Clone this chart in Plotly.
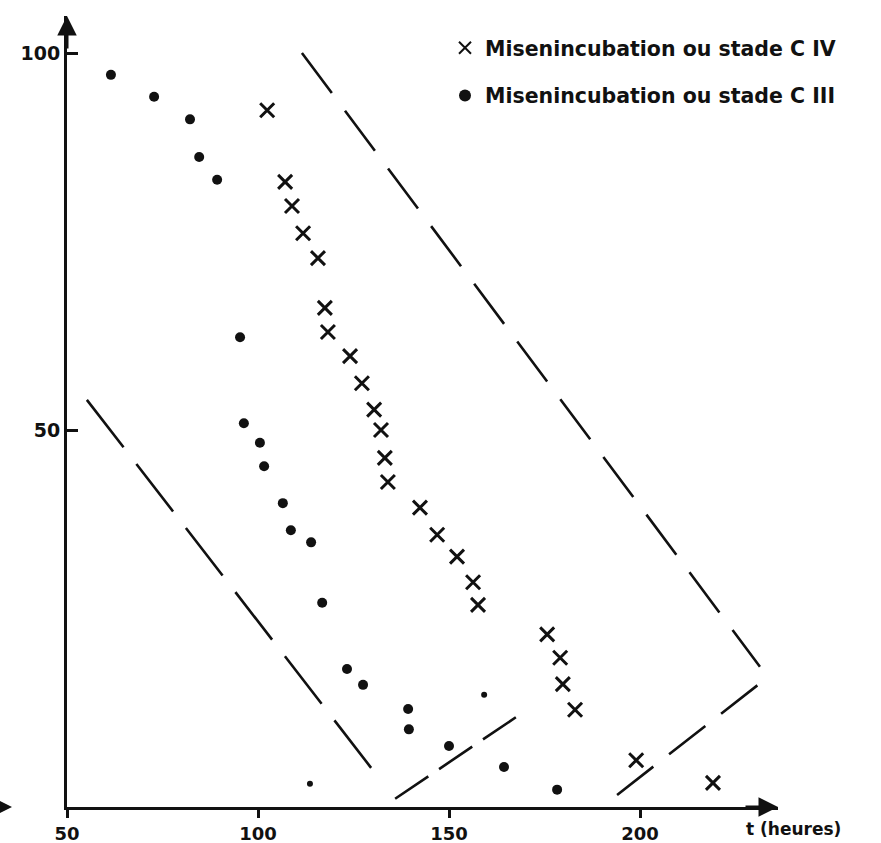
import plotly.graph_objects as go

# --- Data ---
# Mise en incubation au stade C IV (crosses)
civ_t = [102.4, 107.1, 108.9, 111.8, 115.7, 117.5, 118.3, 124.1, 127.2, 130.4,
         132.2, 133.2, 134.0, 142.4, 146.9, 152.1, 156.3, 157.6, 175.7, 179.1,
         179.8, 183.0, 199.0, 219.1]
civ_y = [92.4, 82.9, 79.7, 76.1, 72.8, 66.2, 63.0, 59.8, 56.2, 52.7,
         50.0, 46.3, 43.1, 39.7, 36.1, 33.2, 29.8, 26.8, 22.9, 19.8,
         16.3, 12.9, 6.2, 3.2]

# Mise en incubation au stade C III (dots)
ciii_t = [61.5, 72.8, 82.2, 84.6, 89.3, 95.3, 96.3, 100.5, 101.6, 106.5,
          108.6, 113.9, 116.8, 123.3, 127.5, 139.3, 139.5, 150.0, 164.4, 178.3]
ciii_y = [97.1, 94.2, 91.2, 86.2, 83.2, 62.3, 50.9, 48.3, 45.2, 40.3,
          36.7, 35.1, 27.1, 18.3, 16.2, 13.0, 10.3, 8.1, 5.3, 2.3]

# small (faint) dots
faint_t = [113.6, 159.2]
faint_y = [3.1, 14.9]

# envelope dashed lines (start/end points)
env1_t = [55.2, 132.5]
env1_y = [54.0, 3.3]
env2_t = [135.9, 167.5]
env2_y = [1.1, 11.9]
env3_t = [111.5, 231.4]
env3_y = [100.0, 18.6]
env4_t = [194.0, 231.9]
env4_y = [1.6, 16.6]

x_ticks = [50, 100, 150, 200]
y_ticks = [50, 100]

legend_civ = "Misenincubation ou stade C IV"
legend_ciii = "Misenincubation ou stade C III"
x_title = "t (heures)"

INK = "#111111"
FONT = "DejaVu Sans"

# --- Layout geometry ---
W, H = 881, 843
L, R, T, B = 67, W - 778, 16, H - 807
pw, ph = W - L - R, H - T - B
x_range = [50, 50 + pw / 3.82]
y_range = [0, ph / 7.54]

fig = go.Figure()

for tx, ty, dash in [(env1_t, env1_y, "60px,21px"), (env2_t, env2_y, "40px,13px"),
                     (env3_t, env3_y, "50px,22px"), (env4_t, env4_y, "46px,20px")]:
    fig.add_trace(go.Scatter(x=tx, y=ty, mode="lines", showlegend=False,
                             line=dict(color=INK, width=2.6, dash=dash),
                             hoverinfo="skip", cliponaxis=False))

fig.add_trace(go.Scatter(x=civ_t, y=civ_y, mode="markers", name=legend_civ,
                         legendgroup="a",
                         marker=dict(symbol="x-thin-open", size=14,
                                     line=dict(color=INK, width=3), color=INK),
                         cliponaxis=False))
fig.add_trace(go.Scatter(x=ciii_t, y=ciii_y, mode="markers", name=legend_ciii,
                         legendgroup="b",
                         marker=dict(symbol="circle", size=10, color=INK),
                         cliponaxis=False))
fig.add_trace(go.Scatter(x=faint_t, y=faint_y, mode="markers", showlegend=False,
                         marker=dict(symbol="circle", size=6, color=INK),
                         cliponaxis=False))

# arrowheads of axes
annotations = [
    dict(xref="x", yref="paper", x=50, y=1.0, ax=0, ay=34, text="",
         showarrow=True, arrowhead=2, arrowsize=1.3, arrowwidth=3, arrowcolor=INK),
    dict(xref="paper", yref="y", x=1.0, y=0, ax=-34, ay=0, text="",
         showarrow=True, arrowhead=2, arrowsize=1.3, arrowwidth=3, arrowcolor=INK),
    dict(xref="paper", yref="y", x=(12 - L) / pw, y=0, ax=-14, ay=0, text="",
         showarrow=True, arrowhead=2, arrowsize=1.3, arrowwidth=3, arrowcolor=INK),
    dict(xref="paper", yref="paper", x=(793 - L) / pw, y=(807 - 829) / ph,
         xanchor="center", yanchor="middle",
         text="<b>" + x_title + "</b>", showarrow=False,
         font=dict(family=FONT, size=17, color=INK)),
]

fig.update_layout(
    width=W, height=H,
    margin=dict(l=L, r=R, t=T, b=B, pad=0, autoexpand=False),
    paper_bgcolor="white", plot_bgcolor="white",
    annotations=annotations,
    showlegend=True,
    legend=dict(x=(445 - L) / pw, y=(807 - 28) / ph, xanchor="left", yanchor="top",
                font=dict(family=FONT, size=20.5, color=INK, weight="bold"),
                bgcolor="rgba(0,0,0,0)", tracegroupgap=18, traceorder="grouped",
                itemsizing="constant"),
    xaxis=dict(range=x_range, tickvals=x_ticks, showline=True, linecolor=INK,
               linewidth=3, ticks="outside", ticklen=8, tickwidth=2.5,
               tickcolor=INK, showgrid=False, zeroline=False, automargin=False,
               tickfont=dict(family=FONT, size=18, color=INK, weight="bold")),
    yaxis=dict(range=y_range, tickvals=y_ticks, showline=True, linecolor=INK,
               linewidth=3, ticks="inside", ticklen=11, tickwidth=2.5,
               tickcolor=INK, showgrid=False, zeroline=False, automargin=False,
               tickfont=dict(family=FONT, size=19, color=INK, weight="bold")),
)

fig.write_html("out.html")
